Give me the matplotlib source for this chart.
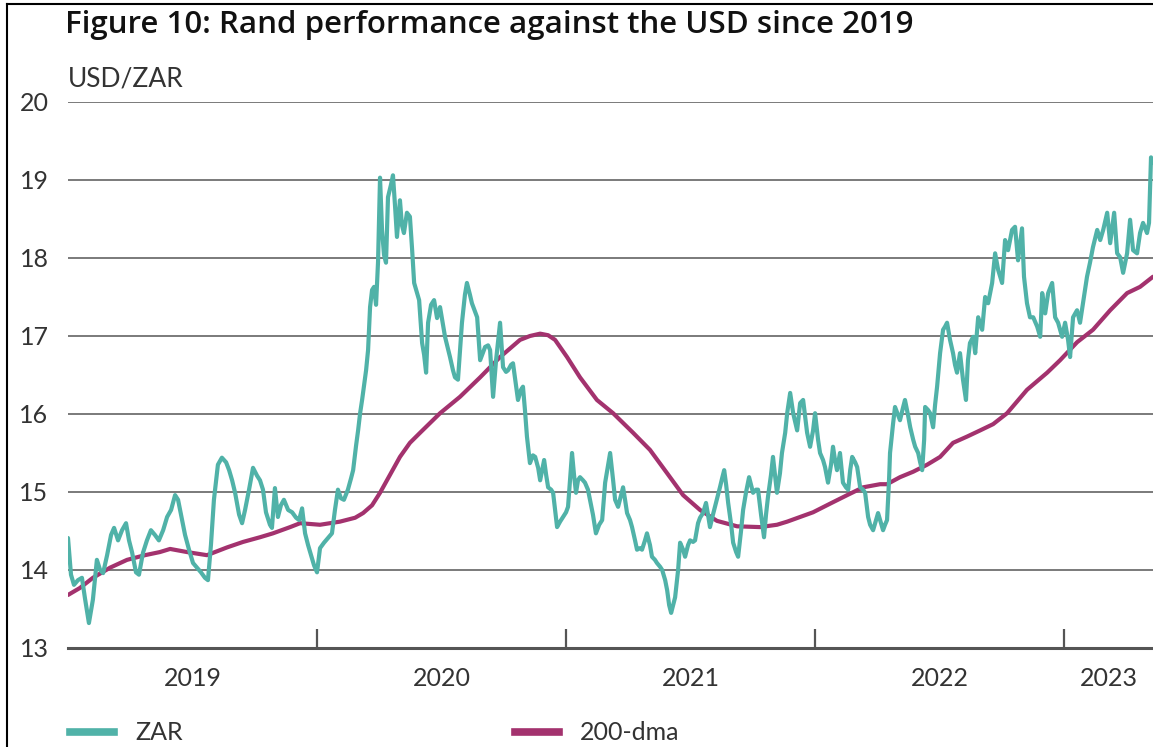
import matplotlib
matplotlib.use("Agg")
import matplotlib.pyplot as plt
from matplotlib.lines import Line2D
import numpy as np

plt.rcParams['font.family'] = ['Lato', 'DejaVu Sans']

# USD/ZAR (decimal years)
zar_t = [2019.000, 2019.012, 2019.024, 2019.040, 2019.056, 2019.068, 2019.084, 2019.100, 2019.116, 2019.129,
         2019.141, 2019.157, 2019.173, 2019.185, 2019.201, 2019.217, 2019.233, 2019.245, 2019.257, 2019.273,
         2019.285, 2019.301, 2019.317, 2019.333, 2019.349, 2019.365, 2019.382, 2019.398, 2019.414, 2019.430,
         2019.442, 2019.454, 2019.470, 2019.486, 2019.502, 2019.518, 2019.534, 2019.550, 2019.562, 2019.574,
         2019.586, 2019.602, 2019.618, 2019.635, 2019.647, 2019.659, 2019.671, 2019.687, 2019.699, 2019.711,
         2019.727, 2019.743, 2019.759, 2019.771, 2019.783, 2019.795, 2019.811, 2019.819, 2019.831, 2019.843,
         2019.855, 2019.867, 2019.884, 2019.900, 2019.916, 2019.928, 2019.940, 2019.952, 2019.964, 2019.976,
         2019.988, 2020.000, 2020.012, 2020.028, 2020.044, 2020.060, 2020.072, 2020.084, 2020.096, 2020.108,
         2020.124, 2020.137, 2020.145, 2020.157, 2020.165, 2020.173, 2020.181, 2020.189, 2020.197, 2020.205,
         2020.213, 2020.221, 2020.229, 2020.237, 2020.245, 2020.253, 2020.261, 2020.269, 2020.277, 2020.285,
         2020.297, 2020.305, 2020.313, 2020.321, 2020.333, 2020.341, 2020.349, 2020.361, 2020.373, 2020.382,
         2020.390, 2020.402, 2020.410, 2020.422, 2020.430, 2020.438, 2020.446, 2020.458, 2020.470, 2020.482,
         2020.494, 2020.514, 2020.534, 2020.546, 2020.554, 2020.566, 2020.582, 2020.594, 2020.602, 2020.614,
         2020.622, 2020.635, 2020.643, 2020.655, 2020.667, 2020.675, 2020.687, 2020.695, 2020.707, 2020.719,
         2020.735, 2020.747, 2020.759, 2020.767, 2020.779, 2020.787, 2020.799, 2020.807, 2020.819, 2020.827,
         2020.835, 2020.843, 2020.855, 2020.867, 2020.876, 2020.888, 2020.896, 2020.904, 2020.912, 2020.920,
         2020.928, 2020.940, 2020.948, 2020.956, 2020.964, 2020.976, 2020.988, 2021.000, 2021.008, 2021.016,
         2021.024, 2021.032, 2021.040, 2021.048, 2021.056, 2021.068, 2021.076, 2021.088, 2021.096, 2021.108,
         2021.120, 2021.133, 2021.145, 2021.157, 2021.169, 2021.177, 2021.189, 2021.197, 2021.209, 2021.229,
         2021.237, 2021.245, 2021.257, 2021.265, 2021.277, 2021.285, 2021.297, 2021.305, 2021.317, 2021.325,
         2021.337, 2021.345, 2021.357, 2021.365, 2021.378, 2021.386, 2021.398, 2021.406, 2021.414, 2021.422,
         2021.430, 2021.438, 2021.450, 2021.458, 2021.470, 2021.478, 2021.490, 2021.498, 2021.510, 2021.518,
         2021.530, 2021.538, 2021.550, 2021.562, 2021.570, 2021.578, 2021.590, 2021.598, 2021.610, 2021.618,
         2021.627, 2021.635, 2021.643, 2021.651, 2021.663, 2021.671, 2021.683, 2021.691, 2021.703, 2021.711,
         2021.723, 2021.735, 2021.743, 2021.751, 2021.763, 2021.771, 2021.783, 2021.795, 2021.803, 2021.811,
         2021.823, 2021.831, 2021.839, 2021.847, 2021.859, 2021.867, 2021.880, 2021.888, 2021.900, 2021.912,
         2021.928, 2021.940, 2021.952, 2021.968, 2021.980, 2021.992, 2022.000, 2022.012, 2022.020, 2022.032,
         2022.040, 2022.052, 2022.064, 2022.072, 2022.080, 2022.088, 2022.100, 2022.112, 2022.124, 2022.133,
         2022.141, 2022.149, 2022.161, 2022.169, 2022.181, 2022.193, 2022.201, 2022.213, 2022.221, 2022.233,
         2022.245, 2022.253, 2022.265, 2022.273, 2022.281, 2022.289, 2022.297, 2022.301, 2022.313, 2022.321,
         2022.333, 2022.341, 2022.353, 2022.361, 2022.373, 2022.382, 2022.394, 2022.402, 2022.414, 2022.422,
         2022.430, 2022.438, 2022.442, 2022.454, 2022.462, 2022.474, 2022.482, 2022.490, 2022.502, 2022.514,
         2022.522, 2022.530, 2022.542, 2022.554, 2022.562, 2022.570, 2022.582, 2022.594, 2022.606, 2022.614,
         2022.622, 2022.635, 2022.643, 2022.655, 2022.671, 2022.683, 2022.695, 2022.711, 2022.723, 2022.735,
         2022.751, 2022.763, 2022.775, 2022.791, 2022.803, 2022.815, 2022.831, 2022.839, 2022.851, 2022.863,
         2022.876, 2022.892, 2022.904, 2022.912, 2022.924, 2022.936, 2022.952, 2022.964, 2022.976, 2022.992,
         2023.004, 2023.016, 2023.024, 2023.036, 2023.052, 2023.064, 2023.076, 2023.092, 2023.104, 2023.116,
         2023.133, 2023.145, 2023.157, 2023.173, 2023.185, 2023.201, 2023.213, 2023.225, 2023.237, 2023.253,
         2023.265, 2023.277, 2023.293, 2023.305, 2023.317, 2023.333, 2023.341, 2023.349, 2023.357]
zar_v = [14.41, 13.94, 13.81, 13.87, 13.90, 13.64, 13.32, 13.62, 14.13, 14.00,
         13.96, 14.19, 14.45, 14.54, 14.38, 14.51, 14.60, 14.38, 14.23, 13.97,
         13.94, 14.22, 14.38, 14.51, 14.45, 14.38, 14.51, 14.68, 14.77, 14.96,
         14.90, 14.71, 14.45, 14.26, 14.09, 14.03, 13.97, 13.90, 13.87, 14.32,
         14.90, 15.35, 15.44, 15.38, 15.28, 15.15, 14.99, 14.71, 14.60, 14.77,
         15.03, 15.31, 15.21, 15.15, 15.03, 14.74, 14.58, 14.54, 15.05, 14.68,
         14.83, 14.90, 14.77, 14.74, 14.67, 14.64, 14.79, 14.47, 14.32, 14.19,
         14.06, 13.97, 14.28, 14.35, 14.41, 14.47, 14.77, 15.03, 14.92, 14.90,
         15.03, 15.18, 15.28, 15.60, 15.79, 16.01, 16.18, 16.37, 16.56, 16.82,
         17.37, 17.59, 17.63, 17.40, 17.95, 19.03, 18.36, 18.04, 17.94, 18.78,
         18.94, 19.06, 18.68, 18.27, 18.74, 18.42, 18.32, 18.58, 18.53, 18.10,
         17.68, 17.55, 17.46, 16.91, 16.76, 16.53, 17.17, 17.40, 17.46, 17.23,
         17.37, 16.99, 16.73, 16.56, 16.47, 16.44, 17.17, 17.53, 17.68, 17.53,
         17.42, 17.31, 17.24, 16.69, 16.79, 16.86, 16.88, 16.82, 16.22, 16.69,
         17.17, 16.60, 16.54, 16.56, 16.63, 16.65, 16.37, 16.18, 16.31, 16.35,
         16.05, 15.71, 15.37, 15.47, 15.45, 15.31, 15.15, 15.28, 15.41, 15.22,
         15.06, 15.03, 14.99, 14.77, 14.55, 14.62, 14.68, 14.74, 14.81, 15.15,
         15.50, 15.22, 14.99, 15.15, 15.19, 15.15, 15.12, 15.03, 14.90, 14.71,
         14.47, 14.58, 14.64, 15.12, 15.35, 15.50, 15.15, 14.90, 14.81, 15.06,
         14.90, 14.73, 14.64, 14.55, 14.38, 14.26, 14.28, 14.26, 14.38, 14.47,
         14.32, 14.17, 14.13, 14.09, 14.04, 14.00, 13.87, 13.74, 13.55, 13.45,
         13.55, 13.65, 14.00, 14.35, 14.26, 14.17, 14.32, 14.38, 14.36, 14.38,
         14.60, 14.67, 14.73, 14.86, 14.71, 14.55, 14.71, 14.81, 14.96, 15.06,
         15.18, 15.28, 15.09, 14.86, 14.58, 14.35, 14.23, 14.17, 14.51, 14.77,
         15.00, 15.19, 15.09, 14.99, 15.03, 15.03, 14.71, 14.42, 14.71, 14.94,
         15.22, 15.45, 15.22, 14.99, 15.24, 15.50, 15.76, 16.01, 16.27, 16.01,
         15.79, 16.14, 16.18, 15.76, 15.58, 15.79, 16.01, 15.67, 15.50, 15.41,
         15.32, 15.12, 15.35, 15.58, 15.41, 15.28, 15.50, 15.12, 15.06, 15.03,
         15.28, 15.45, 15.38, 15.32, 15.06, 15.03, 14.99, 14.68, 14.58, 14.51,
         14.64, 14.73, 14.60, 14.51, 14.58, 14.64, 15.15, 15.50, 15.87, 16.09,
         15.99, 15.92, 16.08, 16.18, 15.99, 15.83, 15.67, 15.58, 15.50, 15.38,
         15.28, 15.67, 16.09, 16.05, 16.01, 15.83, 16.12, 16.35, 16.78, 17.08,
         17.12, 17.17, 16.95, 16.78, 16.63, 16.53, 16.78, 16.44, 16.18, 16.69,
         16.91, 16.99, 16.78, 17.24, 17.08, 17.50, 17.42, 17.68, 18.06, 17.85,
         17.68, 18.23, 18.10, 18.36, 18.40, 17.97, 18.38, 17.76, 17.42, 17.24,
         17.24, 17.12, 16.99, 17.55, 17.29, 17.55, 17.68, 17.24, 17.17, 16.99,
         17.17, 16.95, 16.73, 17.24, 17.33, 17.17, 17.42, 17.76, 17.94, 18.14,
         18.36, 18.23, 18.36, 18.58, 18.19, 18.58, 18.06, 18.01, 17.81, 18.06,
         18.49, 18.10, 18.06, 18.32, 18.45, 18.32, 18.45, 19.29, 19.22]

# 200-day moving average
dma_t = [2019.000, 2019.048, 2019.100, 2019.169, 2019.237, 2019.309, 2019.369, 2019.410, 2019.478, 2019.558,
         2019.639, 2019.703, 2019.771, 2019.823, 2019.892, 2019.932, 2020.012, 2020.092, 2020.153, 2020.185,
         2020.221, 2020.253, 2020.293, 2020.333, 2020.373, 2020.414, 2020.494, 2020.574, 2020.655, 2020.735,
         2020.815, 2020.855, 2020.896, 2020.928, 2020.956, 2021.004, 2021.056, 2021.124, 2021.189, 2021.269,
         2021.337, 2021.406, 2021.470, 2021.538, 2021.606, 2021.687, 2021.779, 2021.847, 2021.888, 2021.940,
         2021.992, 2022.060, 2022.129, 2022.193, 2022.261, 2022.289, 2022.341, 2022.394, 2022.450, 2022.502,
         2022.554, 2022.610, 2022.663, 2022.715, 2022.771, 2022.851, 2022.932, 2022.984, 2023.052, 2023.116,
         2023.185, 2023.253, 2023.305, 2023.357]
dma_v = [13.68, 13.77, 13.90, 14.03, 14.13, 14.19, 14.23, 14.27, 14.23, 14.19,
         14.29, 14.36, 14.42, 14.47, 14.55, 14.60, 14.58, 14.62, 14.67, 14.73,
         14.83, 14.99, 15.22, 15.45, 15.63, 15.76, 16.01, 16.22, 16.47, 16.73,
         16.95, 17.00, 17.03, 17.01, 16.95, 16.73, 16.47, 16.18, 16.01, 15.76,
         15.54, 15.24, 14.96, 14.77, 14.63, 14.56, 14.55, 14.58, 14.62, 14.68,
         14.74, 14.85, 14.96, 15.06, 15.10, 15.10, 15.19, 15.26, 15.35, 15.45,
         15.63, 15.71, 15.79, 15.87, 16.01, 16.31, 16.53, 16.69, 16.92, 17.08,
         17.33, 17.55, 17.63, 17.76]

years = [2019, 2020, 2021, 2022, 2023]
zar_col = '#50b2a8'
dma_col = '#a3326e'

W, H = 1153, 747
fig = plt.figure(figsize=(W / 100, H / 100), dpi=100)
ax = fig.add_axes([68 / W, 1 - 648 / H, 1 - 68 / W, (648 - 102) / H])

ax.plot(dma_t, dma_v, color=dma_col, lw=3.0, solid_capstyle='round', solid_joinstyle='round', zorder=3)
ax.plot(zar_t, zar_v, color=zar_col, lw=3.0, solid_capstyle='round', solid_joinstyle='round', zorder=4)

x0, x1 = 2019.0, zar_t[-1]
ax.set_xlim(x0, x1)
ax.set_ylim(13, 20)
ax.set_yticks(range(13, 21))
ax.grid(axis='y', color='#6f6f6f', lw=1.3)
ax.set_axisbelow(True)
for s in ['top', 'right', 'left']:
    ax.spines[s].set_visible(False)
ax.spines['bottom'].set_color('#555555')
ax.spines['bottom'].set_linewidth(2.2)
ax.spines['bottom'].set_zorder(5)

ax.set_xticks(years[1:])
ax.set_xticklabels([])
ax.tick_params(axis='x', which='major', direction='in', length=14, width=1.6, color='#555555')
mids = [(max(y, x0) + min(y + 1, x1)) / 2 for y in years]
ax.set_xticks(mids, minor=True)
ax.set_xticklabels([str(y) for y in years], minor=True)
ax.tick_params(axis='x', which='minor', length=0, pad=14, labelsize=18, labelcolor='#333333')
ax.tick_params(axis='y', length=0, pad=14, labelsize=18, labelcolor='#333333')

fig.text(65 / W, 1 - 33 / H, 'Figure 10: Rand performance against the USD since 2019',
         fontsize=22.5, fontweight='semibold', color='#111111', va='baseline',
         family=['Open Sans', 'DejaVu Sans'])
fig.text(68 / W, 1 - 87 / H, 'USD/ZAR', fontsize=19, color='#333333', va='baseline')

handles = [Line2D([], [], color=zar_col, lw=5.5), Line2D([], [], color=dma_col, lw=5.5)]
fig.legend(handles, ['ZAR', '200-dma'], loc='center left', bbox_to_anchor=(70 / W, 1 - 733 / H),
           ncol=2, frameon=False, fontsize=18, handlelength=1.75, handletextpad=0.85,
           columnspacing=13.3, borderpad=0, borderaxespad=0, labelcolor='#333333')

# frame around the figure (left and top edges only visible)
fig.add_artist(Line2D([7 / W, 7 / W], [0, 1 - 4 / H], color='black', lw=1.5, transform=fig.transFigure))
fig.add_artist(Line2D([7 / W, 1], [1 - 4 / H, 1 - 4 / H], color='black', lw=1.5, transform=fig.transFigure))

fig.savefig('out.png', dpi=100)
